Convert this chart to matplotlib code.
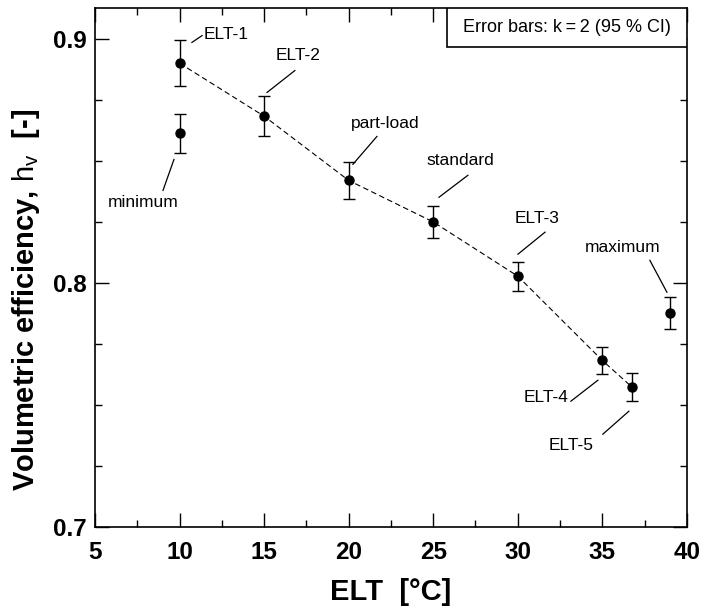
import matplotlib
matplotlib.use("Agg")
import matplotlib.pyplot as plt
from matplotlib.patches import Rectangle
from matplotlib.ticker import MultipleLocator

plt.rcParams['font.family'] = ['Liberation Sans', 'DejaVu Sans']
plt.rcParams['mathtext.fontset'] = 'custom'
plt.rcParams['mathtext.rm'] = 'Liberation Sans'

# Data
labels = ["ELT-1", "minimum", "ELT-2", "part-load", "standard", "ELT-3", "ELT-4", "ELT-5", "maximum"]
elt = [10, 10, 15, 20, 25, 30, 35, 36.75, 39]
eta_v = [0.8899, 0.8613, 0.8682, 0.8419, 0.8249, 0.8027, 0.7682, 0.7573, 0.7876]
err = [0.0095, 0.0080, 0.0083, 0.0075, 0.0065, 0.0060, 0.0055, 0.0056, 0.0064]
on_line = [True, False, True, True, True, True, True, True, False]

# label placement: text position, alignment, leader line start/end
label_pos = {
    "ELT-1":     (11.40, 0.9017, 'left'),
    "ELT-2":     (17.00, 0.8930, 'center'),
    "part-load": (22.15, 0.8652, 'center'),
    "standard":  (26.58, 0.8501, 'center'),
    "ELT-3":     (31.13, 0.8264, 'center'),
    "maximum":   (36.22, 0.8145, 'center'),
    "minimum":   (7.84, 0.8329, 'center'),
    "ELT-4":     (33.00, 0.7532, 'right'),
    "ELT-5":     (33.14, 0.7335, 'center'),
}
leaders = {
    "ELT-1":     ((10.73, 0.8984), (11.33, 0.9012)),
    "ELT-2":     ((15.17, 0.8779), (16.82, 0.8869)),
    "part-load": ((20.25, 0.8485), (21.67, 0.8599)),
    "standard":  ((25.34, 0.8350), (27.05, 0.8440)),
    "ELT-3":     ((30.01, 0.8117), (31.61, 0.8207)),
    "maximum":   ((37.81, 0.8092), (38.82, 0.7961)),
    "minimum":   ((9.02, 0.8378), (9.67, 0.8505)),
    "ELT-4":     ((33.14, 0.7515), (34.74, 0.7601)),
    "ELT-5":     ((35.03, 0.7380), (36.57, 0.7474)),
}

fig = plt.figure(figsize=(7.17, 6.06), dpi=100)
ax = fig.add_axes([0.1325, 0.1304, 0.8255, 0.8564])

# dashed trend line through the ELT series
line_x = [x for x, k in zip(elt, on_line) if k]
line_y = [y for y, k in zip(eta_v, on_line) if k]
ax.plot(line_x, line_y, color='black', lw=0.8, ls=(0, (5, 3)), zorder=1)

ax.errorbar(elt, eta_v, yerr=err, fmt='o', color='black', ms=6.5,
            ecolor='black', elinewidth=1, capsize=4.5, capthick=1, zorder=3)

for name in labels:
    tx, ty, ha = label_pos[name]
    ax.text(tx, ty, name, fontsize=12.5, ha=ha, va='center')
    (x0, y0), (x1, y1) = leaders[name]
    ax.plot([x0, x1], [y0, y1], color='black', lw=0.9)

# note box sitting in the top-right corner
box_w, box_h = 0.405, 0.075
ax.add_patch(Rectangle((1 - box_w, 1 - box_h), box_w, box_h, transform=ax.transAxes,
                       fc='white', ec='black', lw=1.2, zorder=4))
ax.text(1 - box_w / 2, 1 - box_h / 2, "Error bars: k\u2009=\u20092 (95 % CI)",
        transform=ax.transAxes, fontsize=13, ha='center', va='center', zorder=5)

ax.set_xlim(5, 40)
ax.set_ylim(0.7, 0.9125)
ax.xaxis.set_major_locator(MultipleLocator(5))
ax.xaxis.set_minor_locator(MultipleLocator(2.5))
ax.yaxis.set_major_locator(MultipleLocator(0.1))
ax.yaxis.set_minor_locator(MultipleLocator(0.025))
ax.tick_params(which='both', direction='in', top=True, right=True, width=1)
ax.tick_params(which='major', length=10, labelsize=17.5)
ax.tick_params(axis='x', which='major', pad=10)
ax.tick_params(axis='y', which='major', pad=6)
ax.tick_params(which='minor', length=5)
for lab in ax.get_xticklabels() + ax.get_yticklabels():
    lab.set_fontweight('bold')
for s in ax.spines.values():
    s.set_linewidth(1.2)

ax.set_xlabel("ELT  [\u00b0C]", fontsize=21, fontweight='bold')
ax.set_ylabel("Volumetric efficiency, $\\mathrm{h_v}$  [-]", fontsize=21,
              fontweight='bold')
ax.xaxis.set_label_coords(0.5, -0.098)
ax.yaxis.set_label_coords(-0.09, 0.437)

fig.savefig("out.png", dpi=100)
